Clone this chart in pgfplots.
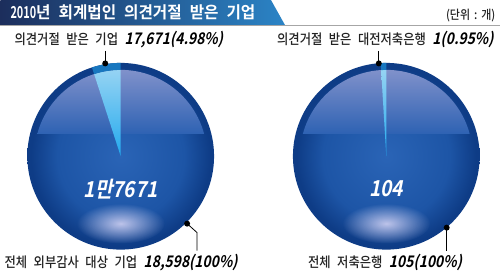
\documentclass[border=0pt]{standalone}
\usepackage{pgfplots}
\pgfplotsset{compat=1.18}
\usetikzlibrary{fadings}
\usepackage{fontspec}
\setmainfont{Noto Sans CJK KR}
\newfontfamily\kr{Noto Sans CJK KR Medium}[FakeStretch=0.88]
\newfontfamily\numf{Noto Sans CJK KR Bold}[FakeSlant=0.2,FakeStretch=0.87]
\newfontfamily\titf{Noto Sans CJK KR Bold}[FakeStretch=0.95]
\newfontfamily\titnum{Noto Sans CJK KR Bold}[FakeStretch=0.66]
\newcommand\s{\hspace{6.5pt}}
\newcommand\ts{\hspace{8pt}}
\definecolor{barA}{HTML}{1C2E5C}
\definecolor{barB}{HTML}{2B84C6}
\definecolor{sphA}{HTML}{2A64B6}
\definecolor{sphB}{HTML}{1D55A6}
\definecolor{sphC}{HTML}{0E3C86}
\definecolor{hlA}{HTML}{8C98CE}
\definecolor{hlB}{HTML}{2E62B3}
\definecolor{wA}{HTML}{95D3F3}
\definecolor{wB}{HTML}{22A9EE}
\definecolor{wR}{HTML}{1877BF}
\definecolor{glA}{HTML}{CFD0F2}
\definecolor{txt}{HTML}{222222}
\tikzfading[name=glowfade, inner color=transparent!0, outer color=transparent!100]
\pgfdeclareradialshading{sph}{\pgfpoint{0bp}{0bp}}{color(0bp)=(sphA); color(17bp)=(sphB); color(24bp)=(sphC); color(50bp)=(sphC)}
% data: share of the whole (percent)
\def\Lpct{4.98}
\def\Rpct{0.95}
\pgfmathsetmacro\Lend{90+3.6*\Lpct}
\pgfmathsetmacro\Rend{90+3.6*\Rpct}
\pgfmathsetmacro\Lxi{0.925*cos(\Lend)}
\pgfmathsetmacro\Lyi{0.925*sin(\Lend)}
\pgfmathsetmacro\Rxi{0.925*cos(\Rend)}
\pgfmathsetmacro\Ryi{0.925*sin(\Rend)}
\pgfmathsetmacro\Ha{asin(0.24/0.925)}
\pgfmathsetmacro\Hb{180-\Ha}
\pgfmathsetmacro\Hx{0.925*cos(\Ha)}
\newcommand\sphere[4]{%
  \shade[shading=sph] (axis cs:0,0) circle[radius=93.5pt];
  \shade[top color=hlA, bottom color=hlB] (axis cs:\Hx,0.24) arc[start angle=\Ha,end angle=\Hb,radius=86.5pt] -- cycle;
  \shade[top color=wA, bottom color=wB] (axis cs:0,0) -- (axis cs:0,0.925) arc[start angle=90,end angle=#1,radius=86.5pt] -- cycle;
  \fill[wR] (axis cs:0,0.925) -- (axis cs:0,1) arc[start angle=90,end angle=#1,radius=93.5pt] -- (axis cs:#2,#3) arc[start angle=#1,end angle=90,radius=86.5pt] -- cycle;
  \fill[glA, path fading=glowfade, fill opacity=0.9] (axis cs:0,-0.72) ellipse[x radius=44pt, y radius=20pt];
  \node[text=white, inner sep=0pt] at (axis cs:0,-0.35) {\numf\fontsize{22}{22}\selectfont #4};
}
\begin{document}
\begin{tikzpicture}
\fill[white] (0,0) rectangle (500pt,-274pt);
% title bar
\shade[left color=barA, right color=barB] (0,0) -- (271pt,0) -- (285pt,-25pt) -- (0,-25pt) -- cycle;
\draw[gray!70, line width=0.8pt] (0,-25.5pt) -- (500pt,-25.5pt);
\node[anchor=west, inner sep=0pt, text=white] at (10pt,-12.5pt) {\fontsize{16.5}{17}\selectfont{\titnum 2010}{\titf 년\ts 회계법인\ts 의견거절\ts 받은\ts 기업}};
\node[anchor=east, inner sep=0pt, text=txt] at (496pt,-16pt) {\kr\fontsize{12.5}{13}\selectfont (단위\hspace{4pt}:\hspace{4pt}개)};

\begin{axis}[at={(120.5pt,-156.5pt)}, anchor=center, scale only axis, width=187pt, height=187pt,
  xmin=-1, xmax=1, ymin=-1, ymax=1, hide axis, clip=false]
  \sphere{\Lend}{\Lxi}{\Lyi}{1만7671}
\end{axis}
\begin{axis}[at={(386.5pt,-156.5pt)}, anchor=center, scale only axis, width=187pt, height=187pt,
  xmin=-1, xmax=1, ymin=-1, ymax=1, hide axis, clip=false]
  \sphere{\Rend}{\Rxi}{\Ryi}{104}
\end{axis}

% labels
\node[anchor=west, inner sep=0pt, text=txt] at (14pt,-40pt) {\kr\fontsize{14}{14}\selectfont 의견거절\s 받은\s 기업\s{\numf\fontsize{16}{16}\selectfont\color{black}17,671(4.98\%)}};
\node[anchor=west, inner sep=0pt, text=txt] at (277pt,-40pt) {\kr\fontsize{14}{14}\selectfont 의견거절\s 받은\s 대전저축은행\s{\numf\fontsize{16}{16}\selectfont\color{black}1(0.95\%)}};
\node[anchor=west, inner sep=0pt, text=txt] at (4pt,-263pt) {\kr\fontsize{14}{14}\selectfont 전체\s 외부감사\s 대상\s 기업\s{\numf\fontsize{16}{16}\selectfont\color{black}18,598(100\%)}};
\node[anchor=west, inner sep=0pt, text=txt] at (308pt,-263pt) {\kr\fontsize{14}{14}\selectfont 전체\s 저축은행\s{\numf\fontsize{16}{16}\selectfont\color{black}105(100\%)}};

% leaders
\draw[black, line width=0.8pt] (105pt,-51pt) -- (105pt,-63pt);
\fill[black] (105pt,-63.5pt) circle[radius=3pt];
\draw[black, line width=0.8pt] (379pt,-51pt) -- (379pt,-63pt);
\fill[black] (379pt,-63.5pt) circle[radius=3pt];
\draw[black, line width=0.8pt] (187pt,-224pt) -- (197pt,-233pt) -- (197pt,-251pt);
\fill[black] (187pt,-224pt) circle[radius=3pt];
\draw[black, line width=0.8pt] (447pt,-228pt) -- (447pt,-251pt);
\fill[black] (447pt,-228pt) circle[radius=3pt];
\end{tikzpicture}
\end{document}
